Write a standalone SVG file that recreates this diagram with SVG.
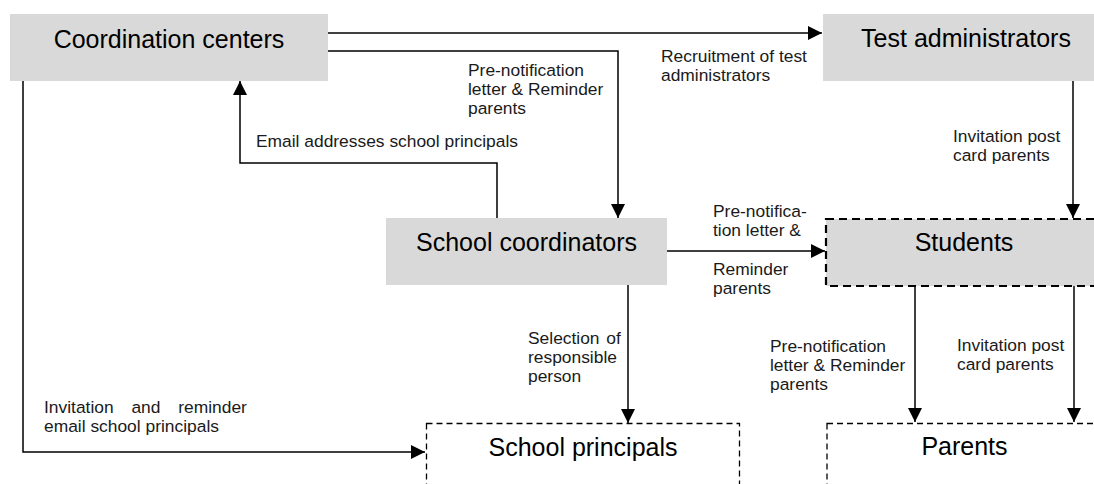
<svg xmlns="http://www.w3.org/2000/svg" width="1094" height="484" viewBox="0 0 1094 484">
<defs>
<marker id="arr" markerUnits="userSpaceOnUse" markerWidth="15" markerHeight="14" refX="14" refY="7" orient="auto">
<path d="M0,0 L14,7 L0,14 Z" fill="#000"/>
</marker>
<style>
.box{fill:#d9d9d9;stroke:none}
.dbox{fill:#d9d9d9;stroke:#000;stroke-width:2.2;stroke-dasharray:8 5}
.tbox{fill:none;stroke:#000;stroke-width:1.3;stroke-dasharray:6 4}
.big{font-family:"Liberation Sans",Arial,sans-serif;font-size:25px;fill:#000;text-anchor:middle}
.lbl{font-family:"Liberation Sans",Arial,sans-serif;font-size:17.4px;fill:#1a1a1a}
.ln{fill:none;stroke:#000;stroke-width:1.5}
.arw{marker-end:url(#arr)}
</style>
</defs>
<rect width="1094" height="484" fill="#fff"/>
<g id="connectors">
<path class="ln arw" d="M328,33 H822"/>
<path class="ln arw" d="M328,51 H618 V218"/>
<path class="ln arw" d="M497,218 V163 H240 V81"/>
<path class="ln arw" d="M23,81 V452 H425"/>
<path class="ln arw" d="M1073,81 V218"/>
<path class="ln arw" d="M667,251 H825"/>
<path class="ln arw" d="M628,285 V423"/>
<path class="ln arw" d="M915,286 V422"/>
<path class="ln arw" d="M1074,286 V422"/>
<text class="lbl" x="468" y="76">Pre-notification</text>
<text class="lbl" x="468" y="95">letter &amp; Reminder</text>
<text class="lbl" x="468" y="114">parents</text>
<text class="lbl" x="661" y="62">Recruitment of test</text>
<text class="lbl" x="661" y="81">administrators</text>
<text class="lbl" x="256" y="147">Email addresses school principals</text>
<text class="lbl" x="953" y="142">Invitation post</text>
<text class="lbl" x="953" y="161">card parents</text>
<text class="lbl" x="713" y="217">Pre-notifica-</text>
<text class="lbl" x="713" y="236">tion letter &amp;</text>
<text class="lbl" x="713" y="275">Reminder</text>
<text class="lbl" x="713" y="294">parents</text>
<text class="lbl" x="528" y="344" word-spacing="2">Selection of</text>
<text class="lbl" x="528" y="363">responsible</text>
<text class="lbl" x="528" y="382">person</text>
<text class="lbl" x="44" y="413" word-spacing="13">Invitation and reminder</text>
<text class="lbl" x="44" y="432">email school principals</text>
<text class="lbl" x="770" y="352">Pre-notification</text>
<text class="lbl" x="770" y="371">letter &amp; Reminder</text>
<text class="lbl" x="770" y="390">parents</text>
<text class="lbl" x="957" y="351">Invitation post</text>
<text class="lbl" x="957" y="370">card parents</text>
</g>
<g id="coordination-centers">
<rect class="box" x="10" y="14" width="318" height="67"/>
<text class="big" x="169" y="48">Coordination centers</text>
</g>
<g id="test-administrators">
<rect class="box" x="823" y="14" width="290" height="67"/>
<text class="big" x="966" y="47">Test administrators</text>
</g>
<g id="school-coordinators">
<rect class="box" x="386" y="218" width="281" height="67"/>
<text class="big" x="526.5" y="251">School coordinators</text>
</g>
<g id="students">
<rect class="dbox" x="826" y="219" width="278" height="67"/>
<text class="big" x="964" y="251">Students</text>
</g>
<g id="school-principals">
<rect class="tbox" x="426.5" y="423.5" width="313" height="80"/>
<text class="big" x="583" y="456">School principals</text>
</g>
<g id="parents">
<rect class="tbox" x="827" y="423.5" width="278" height="80"/>
<text class="big" x="964.5" y="455">Parents</text>
</g>
</svg>
